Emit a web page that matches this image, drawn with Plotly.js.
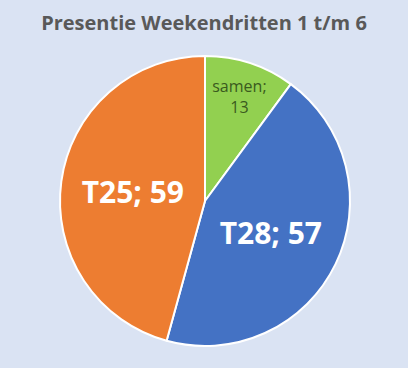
<!DOCTYPE html>
<html><head><meta charset="utf-8">
<script src="https://cdn.plot.ly/plotly-3.0.1.min.js"></script>
<style>html,body{margin:0;padding:0;background:#DAE3F3;}</style>
</head><body><div id="chart" style="width:408px;height:368px;"></div>
<script>
const labels = ["samen", "T28", "T25"];
const values = [13, 57, 59];
const colors = ["#92D050", "#4472C4", "#ED7D31"];
const templates = ["%{label};<br>%{value}", "%{label}; %{value}", "%{label}; %{value}"];
const textColors = ["#3A5A1E", "#FFFFFF", "#FFFFFF"];
const textSizes = [18, 30, 30];

Plotly.newPlot('chart', [{
  type: 'pie',
  labels: labels,
  values: values,
  sort: false,
  direction: 'clockwise',
  rotation: 0,
  marker: {colors: colors, line: {color: '#FFFFFF', width: 2}},
  texttemplate: templates,
  textposition: 'inside',
  insidetextorientation: 'horizontal',
  insidetextfont: {family: 'Open Sans, Lato, sans-serif', color: textColors, size: textSizes, weight: [400, 700, 700]},
  hoverinfo: 'none',
  domain: {x: [60/408, 350/408], y: [1-346/368, 1-56/368]}
}], {
  width: 408, height: 368,
  paper_bgcolor: '#DAE3F3',
  plot_bgcolor: '#DAE3F3',
  margin: {l: 0, r: 0, t: 0, b: 0},
  showlegend: false,
  title: {text: 'Presentie Weekendritten 1 t/m 6', x: 0.5, xanchor: 'center', y: 1 - 23/368, yanchor: 'middle',
    font: {family: 'Open Sans, Lato, sans-serif', size: 20, color: '#595959', weight: 700}}
}, {displayModeBar: false, staticPlot: true});
</script></body></html>
